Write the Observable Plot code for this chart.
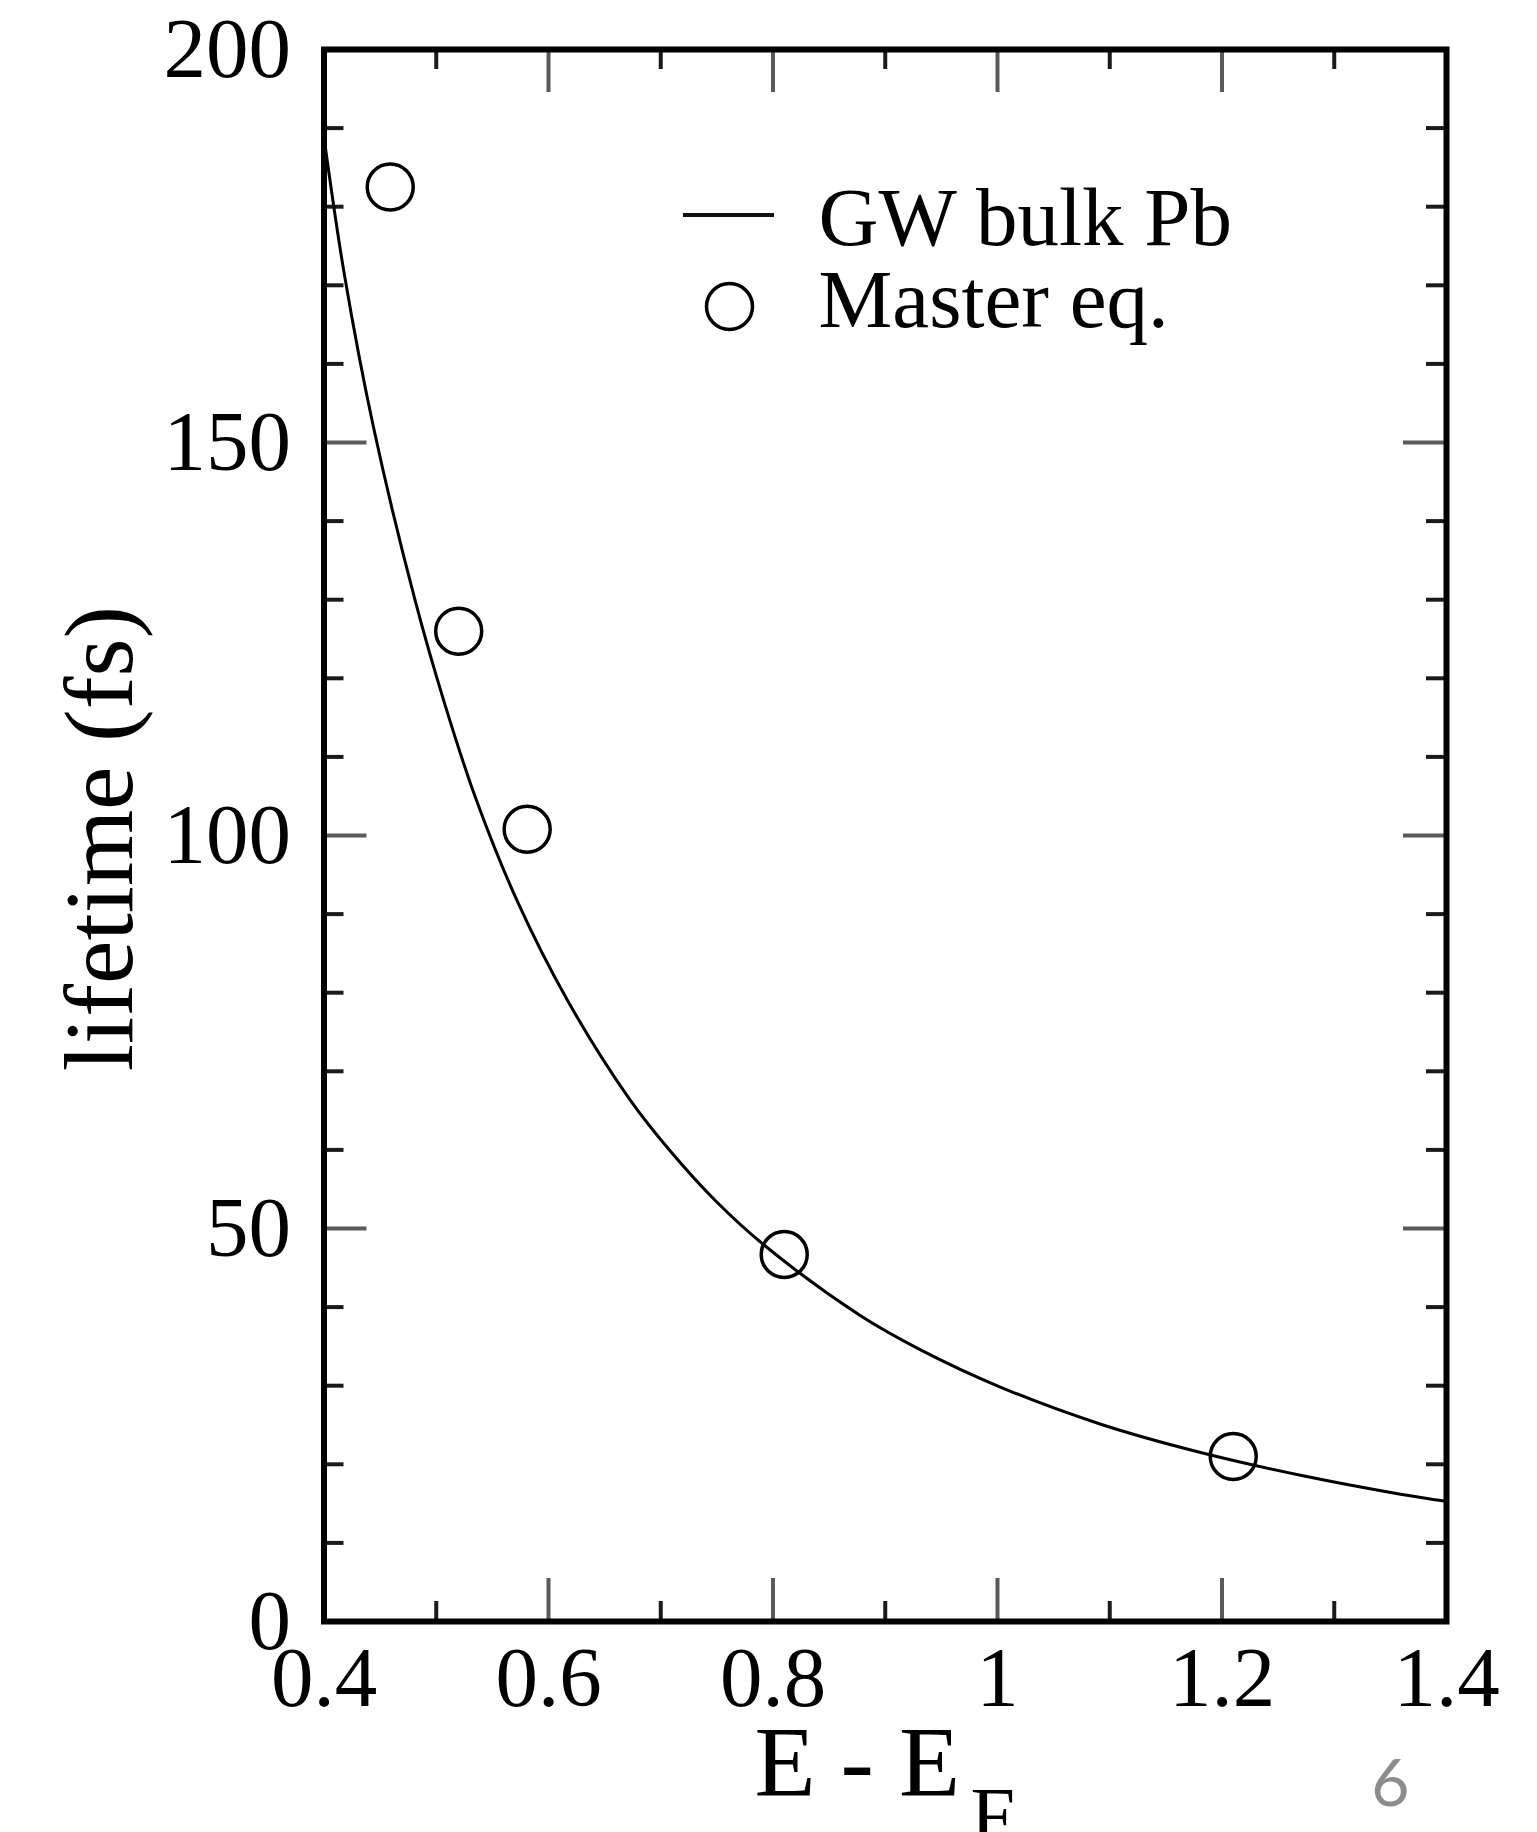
<!DOCTYPE html>
<html>
<head>
<meta charset="utf-8">
<script src="https://cdn.jsdelivr.net/npm/d3@7"></script>
<script src="https://cdn.jsdelivr.net/npm/@observablehq/plot@0.6"></script>
<style>
  html, body { margin: 0; padding: 0; background: #fff; overflow: hidden; }
  #chart svg { display: block; }
</style>
</head>
<body>
<div id="chart"></div>
<script>
// ---- data ----
const gwX = [0.400, 0.418, 0.444, 0.481, 0.507, 0.535, 0.572, 0.617, 0.672, 0.710, 0.749, 0.792, 0.878, 0.931, 1.003, 1.092, 1.181, 1.270, 1.359, 1.400];
const gwY = [188.8, 171.5, 152.0, 130.0, 117.0, 104.8, 91.7, 79.0, 66.5, 59.6, 53.5, 47.9, 38.9, 34.6, 29.8, 25.1, 21.5, 18.6, 16.2, 15.3];
const masterX = [0.459, 0.520, 0.581, 0.810, 1.210];
const masterY = [182.5, 126.0, 100.8, 46.7, 21.0];

const xMajor = [0.4, 0.6, 0.8, 1, 1.2, 1.4];
const xMinor = [0.5, 0.7, 0.9, 1.1, 1.3];
const yMajor = [0, 50, 100, 150, 200];
const yMinor = [10, 20, 30, 40, 60, 70, 80, 90, 110, 120, 130, 140, 160, 170, 180, 190];

const legendLabels = ["GW bulk Pb", "Master eq."];
const xTitle = "E - E";
const xTitleSub = "F";
const yTitle = "lifetime (fs)";
const pageNumber = "6";

// ---- layout ----
const W = 1537, H = 1832;
const ML = 323.5, MR = 91, MT = 49, MB = 211;
const FW = W - ML - MR, FH = H - MT - MB;
const MAJ = 43, MIN = 20;

const gw = gwX.map((x, i) => ({x, y: gwY[i]}));
const master = masterX.map((x, i) => ({x, y: masterY[i]}));

const majorStroke = "#5a5a5a", minorStroke = "#1a1a1a", tickW = 4;

const chart = Plot.plot({
  width: W,
  height: H,
  marginLeft: ML,
  marginRight: MR,
  marginTop: MT,
  marginBottom: MB,
  style: {fontFamily: "'Liberation Serif', 'DejaVu Serif', serif", fontSize: "85px", background: "#fff", color: "#000"},
  x: {domain: [0.4, 1.4]},
  y: {domain: [0, 200]},
  marks: [
    // ticks, pointing inward on all four sides
    Plot.tickY(yMinor, {y: d => d, insetRight: FW - MIN, stroke: minorStroke, strokeWidth: tickW}),
    Plot.tickY(yMinor, {y: d => d, insetLeft: FW - MIN, stroke: minorStroke, strokeWidth: tickW}),
    Plot.tickY(yMajor, {y: d => d, insetRight: FW - MAJ, stroke: majorStroke, strokeWidth: tickW}),
    Plot.tickY(yMajor, {y: d => d, insetLeft: FW - MAJ, stroke: majorStroke, strokeWidth: tickW}),
    Plot.tickX(xMinor, {x: d => d, insetTop: FH - MIN, stroke: minorStroke, strokeWidth: tickW}),
    Plot.tickX(xMinor, {x: d => d, insetBottom: FH - MIN, stroke: minorStroke, strokeWidth: tickW}),
    Plot.tickX(xMajor, {x: d => d, insetTop: FH - MAJ, stroke: majorStroke, strokeWidth: tickW}),
    Plot.tickX(xMajor, {x: d => d, insetBottom: FH - MAJ, stroke: majorStroke, strokeWidth: tickW}),
    // tick labels
    Plot.axisY({anchor: "left", ticks: yMajor, tickSize: 0, tickPadding: 33, tickFormat: d => String(d), label: null}),
    Plot.axisX({anchor: "bottom", ticks: xMajor, tickSize: 0, tickPadding: 24, tickFormat: d => String(d), label: null}),
    // data
    Plot.line(gw, {x: "x", y: "y", curve: "catmull-rom", stroke: "#000", strokeWidth: 3}),
    Plot.dot(master, {x: "x", y: "y", r: 23, stroke: "#000", strokeWidth: 3.5, fill: "none"}),
    // frame
    Plot.frame({stroke: "#000", strokeWidth: 6}),
    // axis titles
    Plot.text([yTitle], {text: d => d, frameAnchor: "left", lineAnchor: "middle", rotate: -90, dx: 100 - ML, dy: 3, fontSize: 98, textAnchor: "middle", fill: "#000"}),
    Plot.text([xTitle], {text: d => d, frameAnchor: "bottom-left", lineAnchor: "middle", dx: 754 - ML, dy: 141, fontSize: 100, textAnchor: "start", fill: "#000"}),
    Plot.text([xTitleSub], {text: d => d, frameAnchor: "bottom-left", lineAnchor: "middle", dx: 970 - ML, dy: 196, fontSize: 80, textAnchor: "start", fill: "#000"}),
    // legend
    Plot.dot([legendLabels[1]], {frameAnchor: "top-left", dx: 729 - ML, dy: 306 - MT, r: 23, stroke: "#000", strokeWidth: 3.5, fill: "none"}),
    Plot.text([legendLabels[0]], {text: d => d, frameAnchor: "top-left", lineAnchor: "middle", dx: 818 - ML, dy: 218 - MT, fontSize: 83, textAnchor: "start", fill: "#000"}),
    Plot.text([legendLabels[1]], {text: d => d, frameAnchor: "top-left", lineAnchor: "middle", dx: 818 - ML, dy: 300 - MT, fontSize: 83, textAnchor: "start", fill: "#000"}),
    // slide page number
    Plot.text([pageNumber], {text: d => d, frameAnchor: "bottom-left", lineAnchor: "middle", dx: 1390 - ML, dy: 163, fontSize: 66, fontFamily: "Lato, 'Open Sans', sans-serif", textAnchor: "middle", fill: "#8c8c8c"})
  ]
});

// legend line sample
d3.select(chart).append("line")
  .attr("x1", 683).attr("x2", 774)
  .attr("y1", 215).attr("y2", 215)
  .attr("stroke", "#111").attr("stroke-width", 4);

document.getElementById("chart").appendChild(chart);
</script>
</body>
</html>
